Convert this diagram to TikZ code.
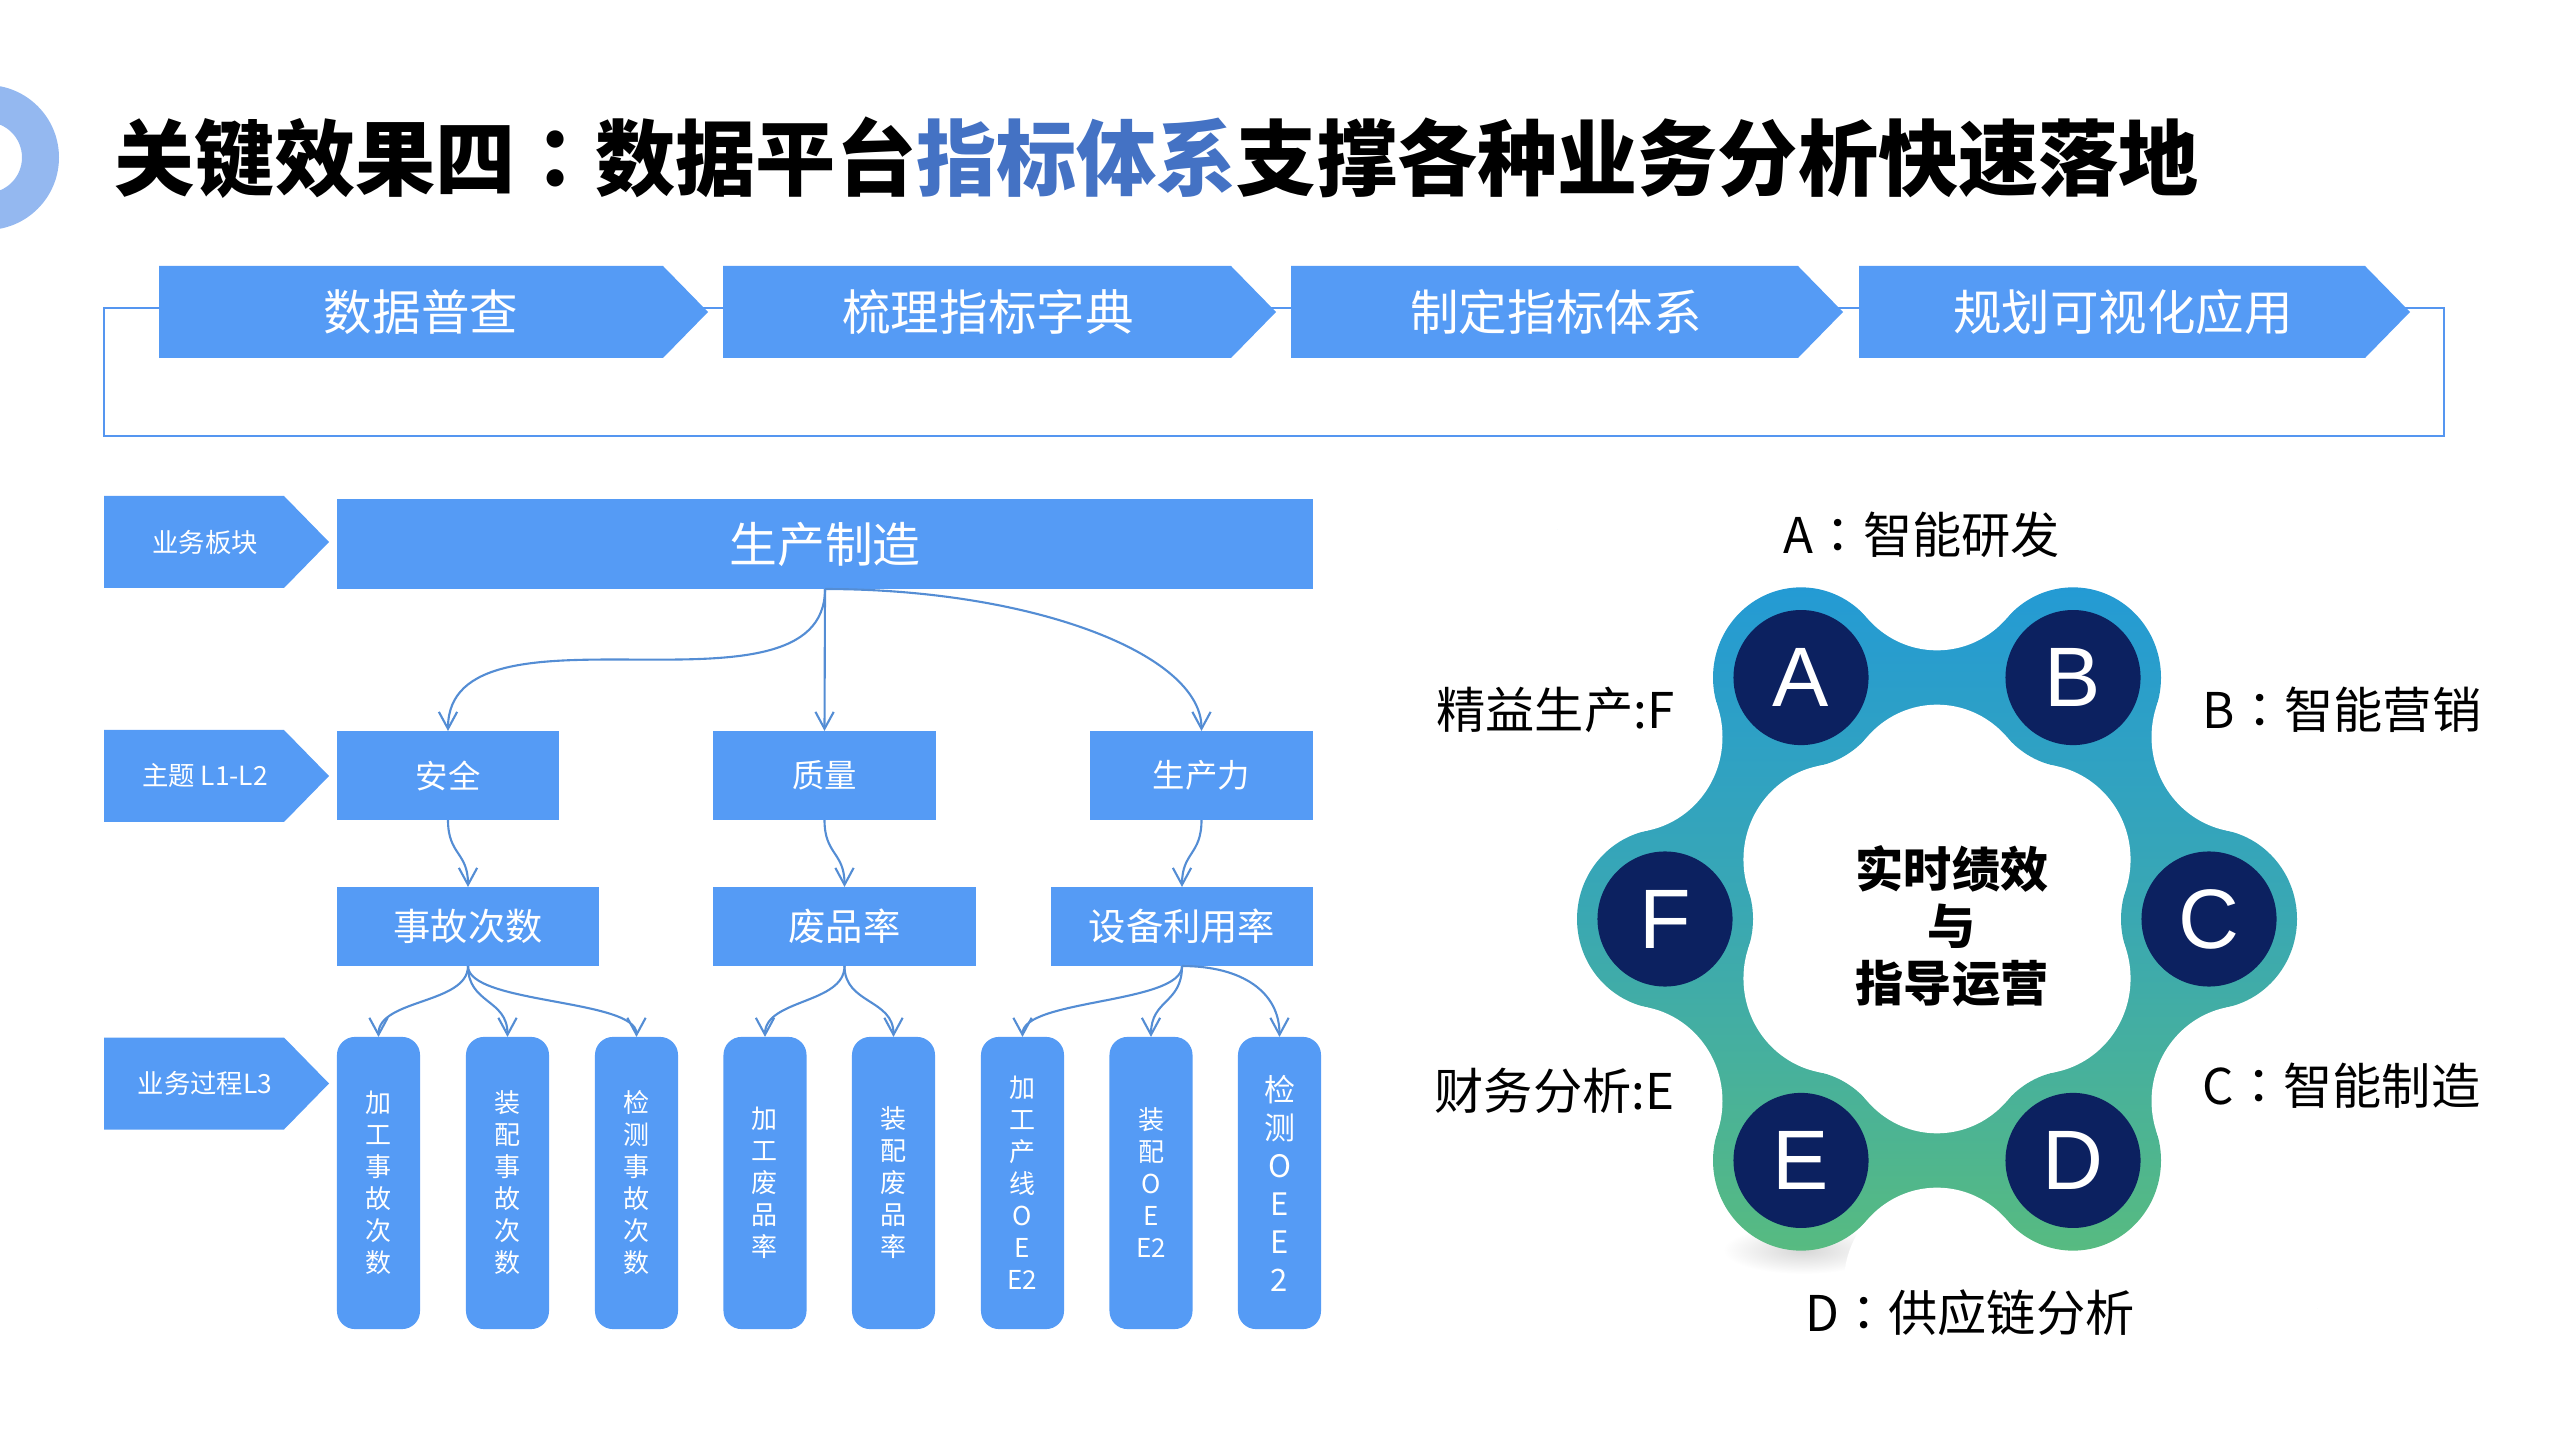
\documentclass[tikz,border=0pt]{standalone}
\usepackage{fontspec}
\setmainfont{Noto Sans CJK SC}
\newfontfamily\tcfont{Noto Sans CJK TC}
\newfontfamily\latfont{Liberation Sans}
\usetikzlibrary{arrows.meta,calc}
\definecolor{boxblue}{RGB}{85,155,245}
\definecolor{lineblue}{RGB}{84,141,212}
\definecolor{frameblue}{RGB}{85,150,240}
\definecolor{titleblue}{RGB}{68,114,196}
\definecolor{decoblue}{RGB}{148,184,240}
\definecolor{navy}{RGB}{12,33,96}
\definecolor{ringtop}{RGB}{32,152,218}
\definecolor{ringmid}{RGB}{58,168,178}
\definecolor{ringbot}{RGB}{92,190,120}
\newcommand{\cc}{{\tcfont ：}}
\begin{document}
\begin{tikzpicture}[x=0.01cm,y=-0.01cm,
  box/.style={fill=boxblue, text=white, inner sep=0pt, outer sep=0pt},
  leaf/.style={box, rounded corners=0.18cm, minimum width=0.83cm, minimum height=2.92cm, align=center, font=\fontsize{7.4}{9.1}\selectfont},
  conn/.style={draw=lineblue, line width=0.6pt, -{Straight Barb[length=4.8pt,width=5.2pt]}},
  chevtext/.style={text=white, inner sep=0pt, font=\fontsize{13.8}{16}\selectfont},
  tagtext/.style={text=white, inner sep=0pt, font=\fontsize{7.5}{9}\selectfont},
  lbl/.style={inner sep=0pt, font=\fontsize{14}{17}\selectfont},
  ringshade/.style={top color=ringtop, bottom color=ringbot, middle color=ringmid},
  f2/.style={font=\fontsize{9.2}{11}\selectfont},
  f3/.style={font=\fontsize{10.6}{12}\selectfont}]
\useasboundingbox (0,0) rectangle (2560,1440);

% decorative ring
\begin{scope}
\clip (0,0) rectangle (2560,1440);
\fill[decoblue, even odd rule] (-13.5,157.5) circle[radius=72.5] (-13.5,157.5) circle[radius=35.5];
\end{scope}

% title
\node[anchor=west, inner sep=0pt, font=\bfseries\fontsize{23.5}{29}\selectfont] (title) at (114,158)
  {\scalebox{0.97}[1]{关键效果四\cc 数据平台\textcolor{titleblue}{指标体系}支撑各种业务分析快速落地}};

% process frame and chevrons
\draw[frameblue, line width=0.7pt] (104,308) rectangle (2444,436);
\foreach \l/\f/\t/\tx/\txt/\nm in {159/663/708/421/数据普查/c1, 723/1231/1276/988/梳理指标字典/c2, 1291/1798/1843/1556/制定指标体系/c3, 1859/2365/2410/2123/规划可视化应用/c4}{
  \fill[boxblue] (\l,266) -- (\f,266) -- (\t,312) -- (\f,358) -- (\l,358) -- cycle;
  \node[chevtext] (\nm) at (\tx,312) {\txt};
}

% level tags
\foreach \yc/\txt/\nm in {542/业务板块/t1, 776/主题 L1-L2/t2, 1083.5/业务过程L3/t3}{
  \fill[boxblue] (104,\yc-46) -- (284,\yc-46) -- (329,\yc) -- (284,\yc+46) -- (104,\yc+46) -- cycle;
  \node[tagtext] (\nm) at (205,\yc) {\txt};
}

% tree
\node[box, minimum width=9.76cm, minimum height=0.90cm, font=\fontsize{13.6}{16}\selectfont] (pm) at (825,544) {生产制造};
\node[box, f2, minimum width=2.22cm, minimum height=0.89cm] (aq) at (448,775.5) {安全};
\node[box, f2, minimum width=2.23cm, minimum height=0.89cm] (zl) at (824.5,775.5) {质量};
\node[box, f2, minimum width=2.23cm, minimum height=0.89cm] (scl) at (1201.5,775.5) {生产力};
\node[box, f3, minimum width=2.62cm, minimum height=0.79cm] (sg) at (468,926.5) {事故次数};
\node[box, f3, minimum width=2.63cm, minimum height=0.79cm] (fp) at (844.5,926.5) {废品率};
\node[box, f3, minimum width=2.62cm, minimum height=0.79cm] (sb) at (1182,926.5) {设备利用率};

\node[leaf] (b1) at (378.5,1183) {加\\工\\事\\故\\次\\数};
\node[leaf] (b2) at (507.5,1183) {装\\配\\事\\故\\次\\数};
\node[leaf] (b3) at (636.5,1183) {检\\测\\事\\故\\次\\数};
\node[leaf] (b4) at (765,1183) {加\\工\\废\\品\\率};
\node[leaf] (b5) at (893.5,1183) {装\\配\\废\\品\\率};
\node[leaf] (b6) at (1022.5,1183) {加\\工\\产\\线\\O\\E\\E2};
\node[leaf] (b7) at (1151,1183) {装\\配\\O\\E\\E2};
\node[leaf, font=\fontsize{8.8}{10.8}\selectfont] (b8) at (1279.5,1183) {检\\测\\O\\E\\E\\2};

\draw[conn] (pm.south) .. controls +(0,142) and +(0,-142) .. (aq.north);
\draw[conn] (pm.south) -- (zl.north);
\draw[conn] (pm.south) .. controls +(207,0) and +(0,-77) .. (scl.north);
\draw[conn] (aq.south) .. controls +(0,35) and +(0,-35) .. (sg.north);
\draw[conn] (zl.south) .. controls +(0,35) and +(0,-35) .. (fp.north);
\draw[conn] (scl.south) .. controls +(0,35) and +(0,-35) .. (sb.north);
\draw[conn] (sg.south) .. controls +(0,38) and +(0,-38) .. (b1.north);
\draw[conn] (sg.south) .. controls +(0,38) and +(0,-38) .. (b2.north);
\draw[conn] (sg.south) .. controls +(0,38) and +(0,-38) .. (b3.north);
\draw[conn] (fp.south) .. controls +(0,38) and +(0,-38) .. (b4.north);
\draw[conn] (fp.south) .. controls +(0,38) and +(0,-38) .. (b5.north);
\draw[conn] (sb.south) .. controls +(0,38) and +(0,-38) .. (b6.north);
\draw[conn] (sb.south) .. controls +(0,38) and +(0,-38) .. (b7.north);
\draw[conn] (sb.south) .. controls +(60,0) and +(0,-45) .. (b8.north);

% ring
\shade[inner color=black!16, outer color=white] (1803,1250) ellipse[x radius=80, y radius=24];
\begin{scope}[shift={(1937,919)}, yscale=1.025]
  \shade[ringshade]
    (-380,-380) -- (-380,-380) (380,380) -- (380,380)
    foreach \a in {0,60,...,300} { (\a:272) circle[radius=88] };
  \shade[ringshade]
    (-380,-380) -- (-380,-380) (380,380) -- (380,380)
    foreach \a in {0,60,...,300} { (\a:272) -- (\a+30:355.2) -- (\a+60:272) -- (\a+30:116) -- cycle };
  \fill[white] foreach \a in {30,90,...,330} { (\a:355.2) circle[radius=93.1] (\a:116) circle[radius=93.1] };
  \foreach \a/\n in {240/A,300/B,0/C,60/D,120/E,180/F}{
    \node[circle, fill=navy, minimum size=1.35cm, inner sep=0pt, text=white, font=\latfont\fontsize{24}{28}\selectfont] (n\n) at (\a:272) {\n};
  }
\end{scope}
\node[align=center, inner sep=0pt, font=\bfseries\fontsize{13.7}{16.2}\selectfont] (ctr) at (1952,926) {实时绩效\\与\\指导运营};

\node[lbl] (la) at (1922,535) {A\cc 智能研发};
\node[lbl, anchor=west] (lb) at (2202,710) {B\cc 智能营销};
\node[lbl, anchor=west] (lc) at (2202,1086) {C\cc 智能制造};
\node[lbl] (ld) at (1970,1313) {D\cc 供应链分析};
\node[lbl, anchor=east] (lf) at (1675,710) {精益生产:F};
\node[lbl, anchor=east] (le) at (1675,1091) {财务分析:E};
\end{tikzpicture}
\end{document}
